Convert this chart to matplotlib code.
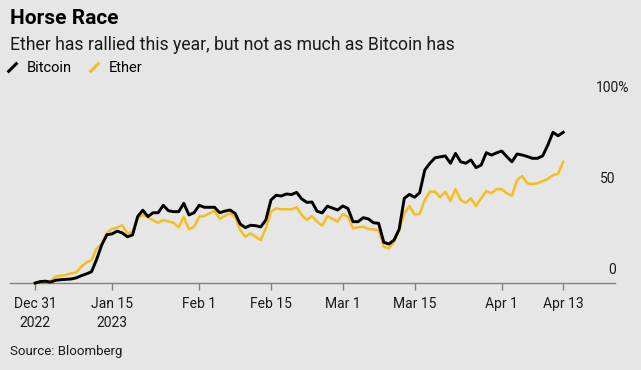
import pandas as pd
import matplotlib
matplotlib.use("Agg")
import matplotlib.pyplot as plt
from matplotlib.lines import Line2D
from matplotlib.path import Path

# daily % change since Dec 31 2022
dates = pd.date_range("2022-12-31", "2023-04-13", freq="D")

bitcoin = [0, 0.8, 1.0, 0.5, 1.5, 1.8, 2.0, 2.2, 2.8, 4.0,
           5.0, 6.2, 13, 21, 26.5, 27, 28.5, 27.5, 25.4, 26.4,
           36.5, 40, 36.5, 38.6, 38.6, 42.7, 39.7, 39.2, 39.2, 43.8,
           37.4, 38.6, 42.7, 41.6, 41.6, 41.6, 38.6, 39.5, 40.1, 38.3,
           32.4, 30.4, 31.7, 31.5, 30.8, 34.6, 45.6, 48.2, 47.8, 48.9,
           48.6, 49.8, 46.2, 44.3, 44.5, 39.4, 38.5, 42.2, 41.2, 40.1,
           42.3, 41, 33.7, 33.7, 35.9, 35.2, 33.1, 32.8, 22.4, 21.4,
           23.6, 29.5, 46.5, 48.7, 47.1, 49.6, 62.1, 65.8, 68.8, 69.3,
           69.8, 65.8, 71.2, 66.6, 65.8, 67.6, 63.4, 64.8, 71.6, 70.3,
           71.5, 72.5, 69.4, 66.6, 70.9, 70.3, 69.5, 68.5, 68.5, 69.9,
           75.8, 82.8, 80.9, 82.8]

ether = [0, 0.2, 0.5, 1.1, 3.5, 4.0, 4.4, 5.3, 5.7, 9.0,
         11.2, 12.6, 19, 21.5, 27.6, 29.7, 30.5, 31.7, 27.3, 28,
         35.5, 37.4, 36.1, 34.5, 33.1, 34.6, 33.8, 33.1, 30.6, 36.4,
         29.5, 30.9, 36.4, 36.8, 38.2, 39.7, 35.3, 36.8, 38.3, 36.4,
         29.1, 25.4, 27.3, 25.4, 23.6, 30, 39.2, 41, 40.5, 40.5,
         40.5, 41.6, 37.4, 34.6, 36.8, 33.7, 31.5, 36.8, 35.2, 33.7,
         37.9, 36.4, 30, 30.6, 30.9, 29.7, 29.4, 29.1, 19.9, 19,
         22.7, 29.1, 38.3, 42.3, 37.7, 37.9, 45.6, 50.2, 50.2, 47.1,
         50.2, 45.1, 51.6, 45.6, 44.1, 46.5, 42.3, 46.5, 50.5, 49.3,
         51.6, 51.6, 49.3, 48, 56.6, 58.8, 54.8, 54.4, 54.8, 56,
         57.1, 59.3, 60, 66.6]

tick_dates = pd.to_datetime(["2022-12-31", "2023-01-15", "2023-02-01", "2023-02-15",
                             "2023-03-01", "2023-03-15", "2023-04-01", "2023-04-13"])
tick_labels = ["Dec 31\n2022", "Jan 15\n2023", "Feb 1", "Feb 15",
               "Mar 1", "Mar 15", "Apr 1", "Apr 13"]
y_ticks = [0, 50, 100]
y_labels = ["0", "50", "100%"]

BG = "#e6e6e6"
BTC_COLOR = "#000000"
ETH_COLOR = "#f5bd1f"
plt.rcParams["font.family"] = ["Roboto", "DejaVu Sans"]

fig = plt.figure(figsize=(6.41, 3.70), dpi=100, facecolor=BG)
W, H = 641, 370
ax = fig.add_axes([10 / W, (H - 283) / H, 605 / W, 182 / H], facecolor=BG)

ax.plot(dates, ether, color=ETH_COLOR, lw=1.8, clip_on=False, zorder=2)
ax.plot(dates, bitcoin, color=BTC_COLOR, lw=2.1, clip_on=False, zorder=3)

ax.set_ylim(0, 100)
ax.set_xlim(dates[0] - pd.Timedelta(days=4.9), dates[-1] + pd.Timedelta(days=10.1))

for s in ["top", "right", "left"]:
    ax.spines[s].set_visible(False)
ax.spines["bottom"].set_color("#808080")
ax.spines["bottom"].set_linewidth(1.0)

ax.set_xticks(tick_dates)
ax.set_xticklabels(tick_labels, fontsize=10, color="#1a1a1a", linespacing=1.5)
ax.tick_params(axis="x", length=5, width=1, color="#808080", pad=5)
ax.set_yticks([])

# right-hand value labels sit just above their level; "%" hangs past the edge
for v, lab in zip(y_ticks, y_labels):
    dx = 10 if lab.endswith("%") else 0.5
    ax.annotate(lab, xy=(1.0, v), xycoords=("axes fraction", "data"),
                xytext=(dx, 9.5), textcoords="offset points",
                ha="right", va="center", fontsize=10, color="#1a1a1a")

fig.text(10 / W, 1 - 18 / H, "Horse Race", fontsize=15, fontweight="bold",
         ha="left", va="center", color="#000000")
fig.text(10 / W, 1 - 45 / H, "Ether has rallied this year, but not as much as Bitcoin has",
         fontsize=12.7, ha="left", va="center", color="#1a1a1a")
fig.text(10 / W, 1 - 352 / H, "Source: Bloomberg", fontsize=9.5,
         ha="left", va="center", color="#1a1a1a")

slash = Path([(-1, -1), (1, 1)], [Path.MOVETO, Path.LINETO])
handles = [Line2D([], [], lw=0, marker=slash, markersize=7, markeredgewidth=2.2,
                  color=BTC_COLOR, label="Bitcoin"),
           Line2D([], [], lw=0, marker=slash, markersize=7, markeredgewidth=2.2,
                  color=ETH_COLOR, label="Ether")]
fig.legend(handles=handles, loc="center left", bbox_to_anchor=(5 / W, 1 - 68 / H),
           ncol=2, frameon=False, fontsize=10.5, handlelength=1.0,
           handletextpad=0.5, columnspacing=1.0, borderpad=0, borderaxespad=0)

fig.savefig("out.png", dpi=100, facecolor=BG)
